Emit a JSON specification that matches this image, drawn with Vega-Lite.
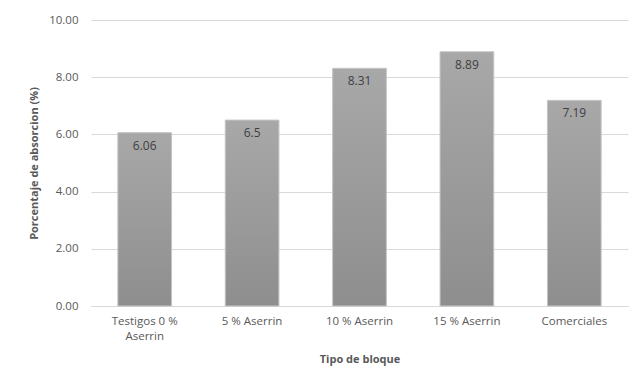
{
  "$schema": "https://vega.github.io/schema/vega-lite/v6.json",
  "width": 537,
  "height": 286,
  "autosize": {"type": "none"},
  "padding": {"left": 91, "top": 20, "right": 3, "bottom": 79},
  "background": "white",
  "config": {
    "view": {"stroke": null},
    "font": "Open Sans",
    "axis": {"labelFont": "Open Sans", "titleFont": "Open Sans", "labelColor": "#595959", "titleColor": "#595959"}
  },
  "data": {
    "values": [
      {"tipo": "Testigos 0 % Aserrin", "valor": 6.06},
      {"tipo": "5 % Aserrin", "valor": 6.5},
      {"tipo": "10 % Aserrin", "valor": 8.31},
      {"tipo": "15 % Aserrin", "valor": 8.89},
      {"tipo": "Comerciales", "valor": 7.19}
    ]
  },
  "encoding": {
    "x": {
      "field": "tipo", "type": "nominal", "sort": null,
      "scale": {"paddingInner": 0.5, "paddingOuter": 0.25},
      "axis": {
        "title": "Tipo de bloque", "labelAngle": 0, "ticks": false, "domain": true,
        "domainColor": "#d9d9d9", "labelFontSize": 11.5, "labelPadding": 9, "labelLineHeight": 15,
        "titleFontSize": 11, "titleFontWeight": "bold", "titlePadding": 12,
        "labelExpr": "datum.label == 'Testigos 0 % Aserrin' ? ['Testigos 0 %', 'Aserrin'] : datum.label"
      }
    },
    "y": {
      "field": "valor", "type": "quantitative",
      "scale": {"domain": [0, 10], "nice": false},
      "axis": {
        "title": "Porcentaje de absorcion (%)", "values": [0, 2, 4, 6, 8, 10], "format": ".2f",
        "ticks": false, "domain": false, "gridColor": "#d9d9d9", "labelFontSize": 11.5,
        "labelPadding": 13, "titleFontSize": 11, "titleFontWeight": "bold", "titlePadding": 9
      }
    }
  },
  "layer": [
    {
      "mark": {
        "type": "bar",
        "stroke": "#c4c4c4", "strokeWidth": 1,
        "color": {"gradient": "linear", "x1": 0, "y1": 0, "x2": 0, "y2": 1,
          "stops": [{"offset": 0, "color": "#a8a8a8"}, {"offset": 1, "color": "#8e8e8e"}]}
      }
    },
    {
      "mark": {"type": "text", "baseline": "top", "dy": 8, "fontSize": 12, "color": "#404040", "font": "Open Sans"},
      "encoding": {"text": {"field": "valor", "type": "quantitative"}}
    }
  ]
}
